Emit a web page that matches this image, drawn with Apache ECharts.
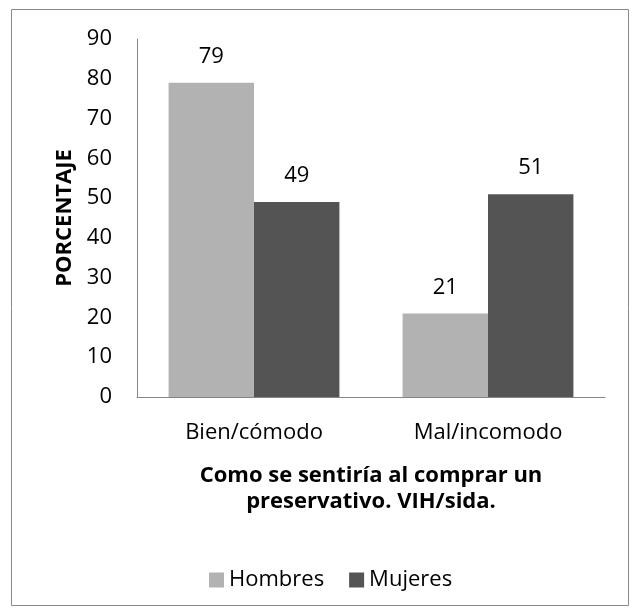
<!DOCTYPE html>
<html>
<head>
<meta charset="utf-8">
<script src="https://cdn.jsdelivr.net/npm/echarts@6/dist/echarts.min.js"></script>
<style>
  html, body { margin: 0; padding: 0; background: #fff; }
  #chart { width: 632px; height: 610px; }
</style>
</head>
<body>
<div id="chart"></div>
<script>
const categories = ['Bien/cómodo', 'Mal/incomodo']
const hombres = [79, 21]
const mujeres = [49, 51]
const seriesNames = ['Hombres', 'Mujeres']

const font = 'Open Sans'
const fs = 22
const chart = echarts.init(document.getElementById('chart'))

const label = {
  show: true,
  position: 'top',
  distance: 15,
  color: '#000',
  fontFamily: font,
  fontSize: fs
}

chart.setOption({
  animation: false,
  graphic: [
    {
      type: 'rect',
      shape: { x: 11.5, y: 9.5, width: 617, height: 596 },
      style: { fill: 'none', stroke: '#888', lineWidth: 1 },
      silent: true
    }
  ],
  grid: { left: 137, right: 27, top: 39, bottom: 213 },
  legend: {
    data: seriesNames,
    left: 204,
    top: 564,
    itemWidth: 15,
    itemHeight: 15,
    itemGap: 25,
    icon: 'rect',
    textStyle: { fontFamily: font, fontSize: fs, color: '#000' }
  },
  xAxis: {
    type: 'category',
    data: categories,
    name: 'Como se sentiría al comprar un\npreservativo. VIH/sida.',
    nameLocation: 'middle',
    nameGap: 66,
    nameTextStyle: { fontFamily: font, fontSize: fs, fontWeight: 'bold', color: '#000', lineHeight: 26 },
    axisLine: { lineStyle: { color: '#868686' } },
    axisTick: { show: false },
    axisLabel: { fontFamily: font, fontSize: fs, color: '#000', margin: 25 }
  },
  yAxis: {
    type: 'value',
    min: 0,
    max: 90,
    interval: 10,
    name: 'PORCENTAJE',
    nameLocation: 'middle',
    nameGap: 58,
    nameTextStyle: { fontFamily: font, fontSize: fs, fontWeight: 'bold', color: '#000' },
    axisLine: { show: true, lineStyle: { color: '#868686' } },
    axisTick: { show: false },
    splitLine: { show: false },
    axisLabel: { fontFamily: font, fontSize: fs, color: '#000', margin: 25 }
  },
  series: [
    {
      name: seriesNames[0],
      type: 'bar',
      data: hombres,
      itemStyle: { color: '#b2b2b2' },
      barGap: '0%',
      barCategoryGap: '27%',
      label
    },
    {
      name: seriesNames[1],
      type: 'bar',
      data: mujeres,
      itemStyle: { color: '#545454' },
      label
    }
  ]
})
</script>
</body>
</html>
